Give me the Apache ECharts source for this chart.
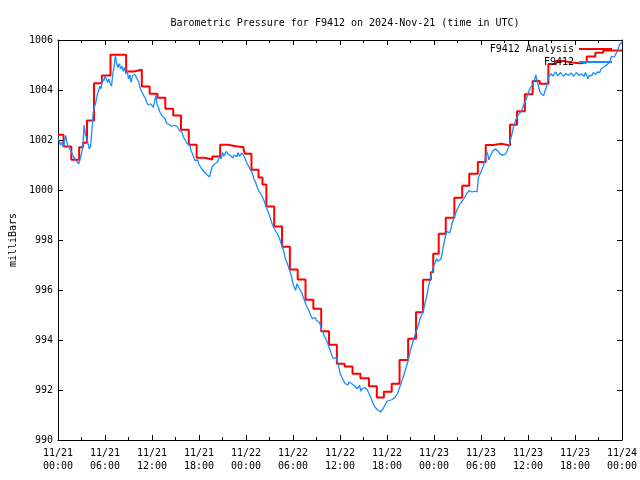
<!DOCTYPE html>
<html><head><meta charset="utf-8">
<script src="https://cdn.jsdelivr.net/npm/echarts@6/dist/echarts.min.js"></script>
<style>html,body{margin:0;padding:0;background:#fff}#c{width:640px;height:480px}</style>
</head><body><div id="c"></div>
<script>
const titleText = 'Barometric Pressure for F9412 on 2024-Nov-21 (time in UTC)';
const yAxisName = 'milliBars';
const seriesNames = ['F9412 Analysis', 'F9412'];
const xTickLabels = ['11/21\n00:00','11/21\n06:00','11/21\n12:00','11/21\n18:00','11/22\n00:00','11/22\n06:00','11/22\n12:00','11/22\n18:00','11/23\n00:00','11/23\n06:00','11/23\n12:00','11/23\n18:00','11/24\n00:00'];

// Analysis (hourly step values): hours since 11/21 00:00 UTC and mb
const analysisHours = [0,0.7,1.7,2.7,3.2,3.7,4.6,5.6,6.7,8.7,9.7,10.7,11.7,12.7,13.7,14.7,15.7,16.7,17.7,18.7,19.7,20.7,21.7,22.7,23.7,23.9,24.7,25.6,26.1,26.6,27.6,28.6,29.6,30.6,31.6,32.6,33.6,34.6,35.6,36.6,37.6,38.6,39.7,40.7,41.6,42.6,43.6,44.7,45.7,46.6,47.6,47.9,48.6,49.5,50.6,51.6,52.5,53.6,54.6,55.6,56.6,57.7,58.6,59.6,60.6,61.5,62.6,63.6,64.5,65.6,66.6,67.5,68.6,69.6,72];
const analysisValues = [1002.21,1001.74,1001.21,1001.71,1001.89,1002.78,1004.27,1004.58,1005.41,1004.74,1004.81,1004.14,1003.85,1003.69,1003.25,1002.98,1002.41,1001.81,1001.29,1001.22,1001.34,1001.81,1001.75,1001.71,1001.6,1001.45,1000.81,1000.5,1000.22,999.34,998.54,997.73,996.82,996.42,995.61,995.25,994.35,993.81,993.05,992.94,992.65,992.47,992.15,991.70,991.93,992.25,993.2,994.05,995.11,996.41,996.71,997.45,998.25,998.89,999.69,1000.17,1000.65,1001.12,1001.80,1001.85,1001.78,1002.61,1003.15,1003.83,1004.36,1004.25,1005.04,1005.16,1005.1,1005.07,1005.1,1005.34,1005.49,1005.58,1005.58];

// Station observations, one every 10 minutes from 11/21 00:00 UTC (one row per hour)
const stationStepMinutes = 10;
const stationValues = [
1002.10,1001.95,1001.80,1001.90,1001.72,1001.78,
1002.18,1001.85,1001.72,1001.80,1001.55,1001.50,
1001.32,1001.40,1001.18,1001.25,1001.05,1001.12,
1001.45,1001.75,1002.60,1002.20,1002.10,1001.85,
1001.65,1001.75,1002.40,1003.10,1003.35,1003.50,
1003.80,1003.95,1004.15,1004.05,1004.45,1004.35,
1004.55,1004.45,1004.30,1004.45,1004.25,1004.15,
1004.65,1004.95,1005.38,1005.05,1004.90,1005.05,
1004.85,1004.95,1004.75,1004.90,1004.65,1004.75,
1004.45,1004.60,1004.30,1004.58,1004.50,1004.62,
1004.65,1004.40,1004.30,1004.05,1003.95,1003.85,
1003.85,1003.65,1003.50,1003.40,1003.32,1003.45,
1003.45,1003.30,1003.35,1003.78,1003.40,1003.30,
1003.12,1003.05,1002.95,1002.90,1002.85,1002.68,
1002.68,1002.62,1002.65,1002.55,1002.60,1002.58,
1002.60,1002.55,1002.50,1002.38,1002.40,1002.30,
1002.12,1002.05,1001.95,1001.85,1001.90,1001.78,
1001.55,1001.45,1001.30,1001.18,1001.12,1001.20,
1001.02,1000.95,1000.85,1000.78,1000.72,1000.68,
1000.62,1000.70,1000.52,1000.58,1000.92,1000.85,
1001.05,1000.98,1001.10,1001.22,1001.35,1001.25,
1001.50,1001.35,1001.42,1001.55,1001.45,1001.38,
1001.38,1001.45,1001.28,1001.40,1001.45,1001.33,
1001.50,1001.35,1001.42,1001.48,1001.40,1001.30,
1001.15,1001.05,1000.95,1000.85,1000.75,1000.65,
1000.45,1000.35,1000.20,1000.05,999.95,999.88,
999.78,999.70,999.55,999.40,999.25,999.12,
998.98,998.90,998.65,998.52,998.42,998.38,
998.25,998.15,998.00,997.85,997.70,997.55,
997.25,997.15,997.00,996.85,996.70,996.50,
996.25,996.10,995.98,996.25,996.20,996.05,
996.00,995.85,995.70,995.55,995.40,995.32,
995.20,995.05,994.95,994.85,994.85,994.90,
994.78,994.85,994.72,994.60,994.40,994.30,
994.15,994.05,993.95,993.80,993.65,993.50,
993.35,993.25,993.22,993.30,993.15,992.95,
992.68,992.55,992.45,992.35,992.25,992.22,
992.20,992.32,992.38,992.25,992.28,992.18,
992.15,992.05,992.08,992.18,991.95,992.05,
992.00,992.10,992.15,992.00,991.88,991.80,
991.65,991.50,991.40,991.30,991.25,991.20,
991.20,991.12,991.05,991.25,991.35,991.28,
991.55,991.50,991.58,991.52,991.62,991.58,
991.70,991.75,991.85,992.00,992.15,992.30,
992.45,992.62,992.80,992.95,993.15,993.38,
993.60,993.78,993.95,994.12,994.30,994.42,
994.60,994.78,994.95,995.05,995.20,995.45,
995.65,995.90,996.20,996.40,996.65,996.80,
997.00,997.12,997.25,997.15,997.10,997.22,
997.40,997.70,997.95,998.20,998.35,998.28,
998.28,998.45,998.70,998.85,999.00,999.12,
999.25,999.35,999.45,999.52,999.58,999.65,
999.75,999.85,999.92,999.98,999.98,999.92,
999.92,999.95,999.90,999.92,1000.50,1000.62,
1000.72,1000.80,1001.00,1001.20,1001.40,1001.50,
1001.20,1001.35,1001.40,1001.55,1001.62,1001.65,
1001.60,1001.55,1001.50,1001.42,1001.45,1001.40,
1001.32,1001.45,1001.50,1001.70,1001.88,1002.10,
1002.30,1002.55,1002.70,1002.85,1002.95,1003.05,
1003.05,1003.15,1003.30,1003.45,1003.55,1003.70,
1003.85,1004.00,1004.10,1004.18,1004.25,1004.38,
1004.60,1004.35,1004.15,1003.95,1003.85,1003.80,
1003.78,1003.95,1004.10,1004.35,1004.55,1004.62,
1004.65,1004.55,1004.62,1004.72,1004.70,1004.58,
1004.55,1004.70,1004.68,1004.55,1004.58,1004.66,
1004.65,1004.58,1004.55,1004.68,1004.62,1004.55,
1004.60,1004.70,1004.66,1004.58,1004.58,1004.65,
1004.62,1004.55,1004.70,1004.62,1004.45,1004.58,
1004.65,1004.58,1004.70,1004.75,1004.62,1004.72,
1004.78,1004.70,1004.85,1004.80,1004.92,1004.88,
1005.00,1004.95,1005.08,1005.20,1005.35,1005.38,
1005.32,1005.40,1005.50,1005.62,1005.80,1005.85,
1005.92];

const FONT = '"DejaVu Sans Mono", "Liberation Mono", monospace';
const RED = '#ff0000', BLUE = '#1a8cff';

const analysisData = analysisHours.map((h, i) => [h, analysisValues[i]]);
const stationData = stationValues.map((v, i) => [i * stationStepMinutes / 60, v]);

const tickStyle = {color: '#000', width: 1};
function xAx(pos, labels) {
  return {
    type: 'value', min: 0, max: 72, interval: 6, position: pos,
    axisLine: {show: true, onZero: false, lineStyle: tickStyle},
    axisTick: {show: true, inside: true, length: 5, lineStyle: tickStyle},
    minorTick: {show: true, splitNumber: 2, length: 3, lineStyle: tickStyle},
    splitLine: {show: false}, minorSplitLine: {show: false},
    axisLabel: labels ? {
      show: true, formatter: v => xTickLabels[Math.round(v / 6)],
      fontFamily: FONT, fontSize: 10, color: '#000', lineHeight: 13, margin: 7,
      showMinLabel: true, showMaxLabel: true, hideOverlap: false
    } : {show: false}
  };
}
function yAx(pos, labels) {
  const a = {
    type: 'value', min: 990, max: 1006, interval: 2, position: pos,
    axisLine: {show: true, onZero: false, lineStyle: tickStyle},
    axisTick: {show: true, inside: true, length: 5, lineStyle: tickStyle},
    splitLine: {show: false},
    axisLabel: labels ? {show: true, fontFamily: FONT, fontSize: 10, color: '#000', margin: 5,
      formatter: v => String(v), showMinLabel: true, showMaxLabel: true} : {show: false}
  };
  if (labels) {
    a.name = yAxisName; a.nameLocation = 'middle'; a.nameRotate = 90; a.nameGap = 40;
    a.nameTextStyle = {fontFamily: FONT, fontSize: 10, color: '#000'};
  }
  return a;
}

const chart = echarts.init(document.getElementById('c'), null, {renderer: 'canvas'});
chart.setOption({
  animation: false,
  backgroundColor: '#fff',
  title: {text: titleText, left: 340, top: 13, textAlign: 'center',
    textStyle: {fontFamily: FONT, fontSize: 10, fontWeight: 'normal', color: '#000'}},
  grid: {left: 58, right: 18, top: 40, bottom: 40, containLabel: false, outerBoundsMode: 'none'},
  legend: [
    {data: [{name: seriesNames[0], icon: 'rect'}], right: 28, top: 44, orient: 'vertical', align: 'right',
      itemWidth: 33, itemHeight: 2, padding: 0, textStyle: {fontFamily: FONT, fontSize: 10, color: '#000'}},
    {data: [{name: seriesNames[1], icon: 'rect'}], right: 28, top: 57, orient: 'vertical', align: 'right',
      itemWidth: 33, itemHeight: 2, padding: 0, textStyle: {fontFamily: FONT, fontSize: 10, color: '#000'}}
  ],
  xAxis: [xAx('bottom', true), xAx('top', false)],
  yAxis: [yAx('left', true), yAx('right', false)],
  series: [
    {name: seriesNames[0], type: 'line', step: 'end', data: analysisData, showSymbol: false,
      color: RED, lineStyle: {color: RED, width: 2}, z: 2},
    {name: seriesNames[1], type: 'line', data: stationData, showSymbol: false,
      color: BLUE, lineStyle: {color: BLUE, width: 1.3}, z: 3}
  ]
});
</script></body></html>
